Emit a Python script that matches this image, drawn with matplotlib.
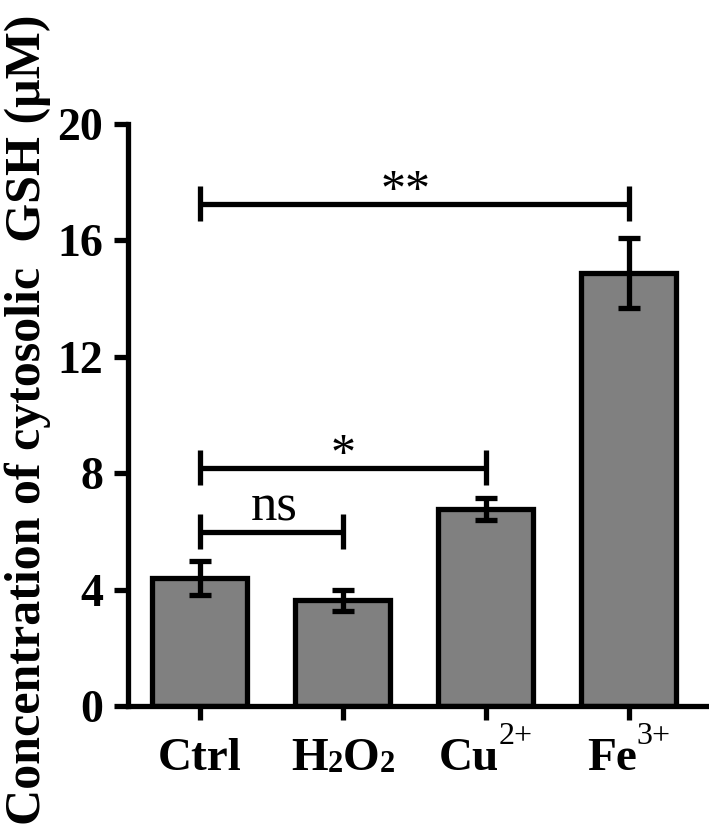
import matplotlib
matplotlib.use("Agg")
import matplotlib.pyplot as plt
import numpy as np

# data
groups = ['Ctrl', 'H2O2', 'Cu2+', 'Fe3+']
gsh_mean = [4.40, 3.64, 6.77, 14.88]
gsh_err = [0.58, 0.36, 0.38, 1.19]

# label pieces: (text, kind) -- kind is main / sub / sup
label_parts = [
    [('Ctrl', 'main')],
    [('H', 'main'), ('2', 'sub'), ('O', 'main'), ('2', 'sub')],
    [('Cu', 'main'), ('2+', 'sup')],
    [('Fe', 'main'), ('3+', 'sup')],
]

# significance brackets
sig_pairs = [(0, 1), (0, 2), (0, 3)]
sig_heights = [5.98, 8.18, 17.25]
sig_labels = ['ns', '*', '**']
sig_shift = [0.02, 0.0, -0.06]   # label offset from bracket middle

plt.rcParams['font.family'] = ['Liberation Serif', 'DejaVu Serif']

fig = plt.figure(figsize=(7.09, 8.26), dpi=100)
ax = fig.add_axes([0.1805, 0.1453, 0.8195, 0.7047])

x = np.arange(len(groups))
lw = 3.8
ax.bar(x, gsh_mean, width=0.665, color='#808080', edgecolor='black', linewidth=lw, zorder=2)
ax.errorbar(x, gsh_mean, yerr=gsh_err, fmt='none', ecolor='black', elinewidth=lw,
            capsize=8, capthick=lw, zorder=3)

for (i, j), h, lab, dx in zip(sig_pairs, sig_heights, sig_labels, sig_shift):
    ax.plot([i, j], [h, h], color='black', lw=lw, solid_capstyle='butt', zorder=3)
    for k in (i, j):
        ax.plot([k, k], [h - 0.6, h + 0.6], color='black', lw=lw, solid_capstyle='butt', zorder=3)
    if lab == 'ns':
        ax.text((i + j) / 2 + dx, h + 0.41, lab, ha='center', va='baseline', fontsize=38)
    else:
        ax.text((i + j) / 2 + dx, h, lab, ha='center', va='baseline', fontsize=36)

ax.set_xlim(-0.503, 3.56)
ax.set_ylim(0, 20)
ax.set_yticks([0, 4, 8, 12, 16, 20])
ax.set_xticks(x)
ax.set_xticklabels([])
ax.tick_params(axis='both', direction='out', length=10, width=lw)
ax.tick_params(axis='y', pad=8, labelsize=33)
for lab in ax.get_yticklabels():
    lab.set_fontweight('bold')

for s in ['top', 'right']:
    ax.spines[s].set_visible(False)
for s in ['left', 'bottom']:
    ax.spines[s].set_linewidth(lw)

fig.text(28 / 709, 1 - 420 / 826, 'Concentration of cytosolic  GSH (\u03bcM)',
         rotation=90, ha='center', va='center', fontsize=36, fontweight='bold')

# x labels built piece by piece (sub/superscripts)
styles = {'main': (34, 'bold', 0), 'sub': (22, 'bold', -2), 'sup': (23, 'normal', 26)}
W, H = fig.get_size_inches() * fig.dpi
base_px = 56
fig.canvas.draw()
rend = fig.canvas.get_renderer()
for i, parts in enumerate(label_parts):
    cx = ax.transData.transform((i, 0))[0]
    txts, widths = [], []
    for s, kind in parts:
        size, weight, dy = styles[kind]
        t = fig.text(0, (base_px + dy) / H, s, fontsize=size, fontweight=weight,
                     ha='left', va='baseline')
        txts.append(t)
        widths.append(t.get_window_extent(rend).width)
    left = cx - sum(widths) / 2
    for t, w in zip(txts, widths):
        t.set_x(left / W)
        left += w

fig.savefig('out.png', dpi=100)
